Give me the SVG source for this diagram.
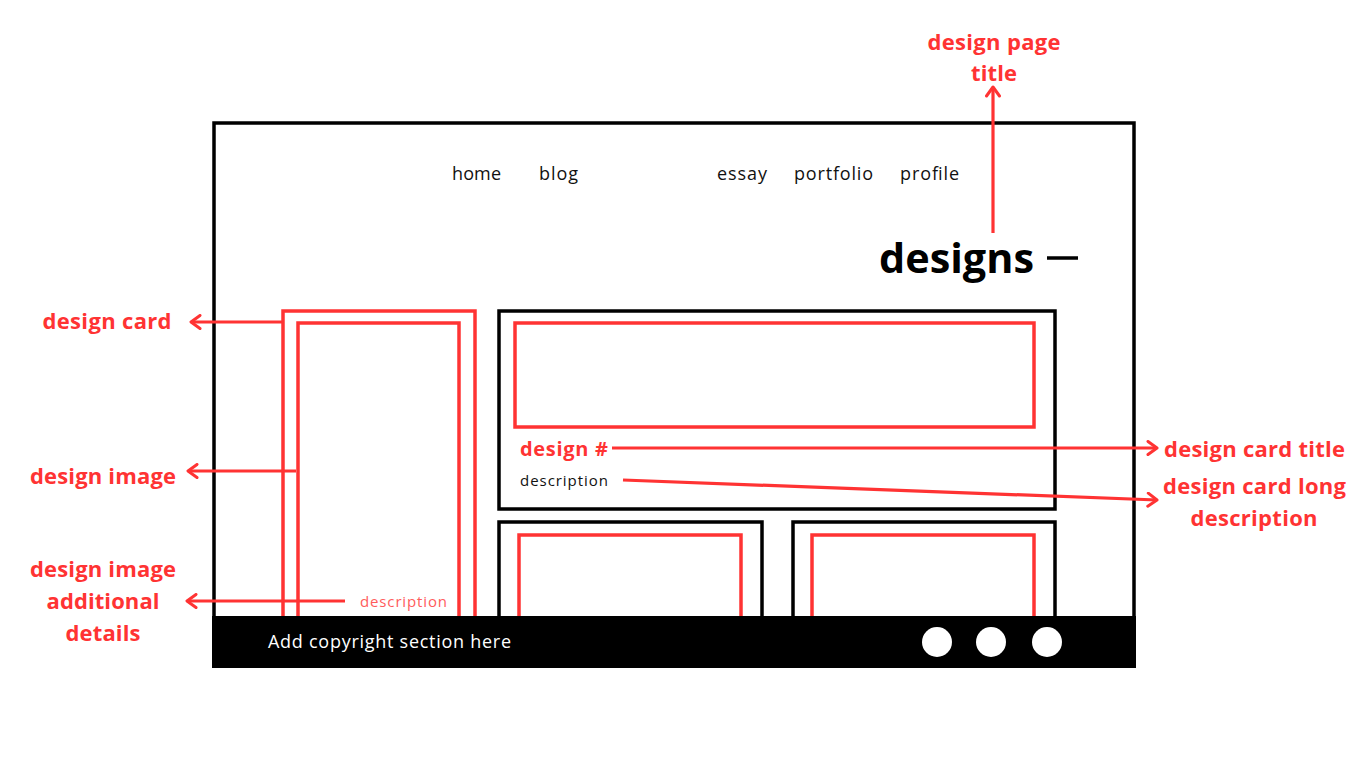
<svg xmlns="http://www.w3.org/2000/svg" width="1366" height="768" viewBox="0 0 1366 768">
<defs>
<marker id="arr" viewBox="0 0 14 16" refX="12" refY="8" markerWidth="14" markerHeight="16" markerUnits="userSpaceOnUse" orient="auto">
<polyline points="3,1.5 12,8 3,14.5" fill="none" stroke="#ff3333" stroke-width="3" stroke-linecap="round" stroke-linejoin="round"/>
</marker>
<style>
.lbl{font-family:"Open Sans","Liberation Sans",sans-serif;font-weight:bold;font-size:22px;fill:#ff3333}
.nav{font-family:"Open Sans","Liberation Sans",sans-serif;font-size:18px;fill:#111}
.blk{fill:none;stroke:#000;stroke-width:3.5}
.red{fill:none;stroke:#ff3333;stroke-width:3.5}
.con{fill:none;stroke:#ff3333;stroke-width:3.2;marker-end:url(#arr)}
</style>
</defs>
<rect width="1366" height="768" fill="#fff"/>
<g id="frame">
<rect class="blk" x="214" y="123" width="920" height="520"/>
</g>
<g id="nav">
<text class="nav" x="452" y="180" textLength="49">home</text>
<text class="nav" x="539" y="180" textLength="39">blog</text>
<text class="nav" x="717" y="180" textLength="50">essay</text>
<text class="nav" x="794" y="180" textLength="79">portfolio</text>
<text class="nav" x="900" y="180" textLength="59">profile</text>
</g>
<g id="page-title">
<text x="879" y="273" font-family="'Open Sans','Liberation Sans',sans-serif" font-weight="bold" font-size="42" fill="#000" textLength="155" lengthAdjust="spacingAndGlyphs">designs</text>
<line x1="1047" y1="258" x2="1078" y2="258" stroke="#000" stroke-width="3.5"/>
</g>
<g id="design-card">
<rect class="red" x="283" y="311" width="192" height="330"/>
<rect class="red" x="298" y="323" width="161" height="318"/>
<text x="360" y="607" font-family="'Open Sans','Liberation Sans',sans-serif" font-size="15" fill="#ff5c5c" textLength="87">description</text>
</g>
<g id="featured-card">
<rect class="blk" x="499" y="311" width="556" height="198"/>
<rect class="red" x="515" y="323" width="519" height="104"/>
<text x="520" y="456" font-family="'Open Sans','Liberation Sans',sans-serif" font-weight="bold" font-size="20" fill="#ff3333" textLength="88">design #</text>
<text x="520" y="486" font-family="'Open Sans','Liberation Sans',sans-serif" font-size="15" fill="#111" textLength="88">description</text>
</g>
<g id="card-bottom-left">
<rect class="blk" x="499" y="522" width="263" height="120"/>
<rect class="red" x="519" y="535" width="222" height="110"/>
</g>
<g id="card-bottom-right">
<rect class="blk" x="793" y="522" width="262" height="120"/>
<rect class="red" x="812" y="535" width="222" height="110"/>
</g>
<g id="footer">
<rect x="212" y="616" width="924" height="52" fill="#000"/>
<text x="268" y="648" font-family="'Open Sans','Liberation Sans',sans-serif" font-size="18" fill="#fff" textLength="243">Add copyright section here</text>
<circle cx="937" cy="642" r="15" fill="#fff"/>
<circle cx="991" cy="642" r="15" fill="#fff"/>
<circle cx="1047" cy="642" r="15" fill="#fff"/>
</g>
<g id="labels">
<text class="lbl" x="994" y="50" text-anchor="middle" textLength="133">design page</text>
<text class="lbl" x="994" y="81" text-anchor="middle" textLength="46">title</text>
<text class="lbl" x="107" y="329" text-anchor="middle" textLength="129">design card</text>
<text class="lbl" x="103" y="484" text-anchor="middle" textLength="146">design image</text>
<text class="lbl" x="103" y="577" text-anchor="middle" textLength="146">design image</text>
<text class="lbl" x="103" y="609" text-anchor="middle" textLength="113">additional</text>
<text class="lbl" x="103" y="641" text-anchor="middle" textLength="75">details</text>
<text class="lbl" x="1164" y="457" textLength="181">design card title</text>
<text class="lbl" x="1163" y="494" textLength="183">design card long</text>
<text class="lbl" x="1254" y="526" text-anchor="middle" textLength="127">description</text>
</g>
<g id="connectors">
<line class="con" x1="993" y1="233" x2="993" y2="87"/>
<line class="con" x1="282" y1="322" x2="191" y2="322"/>
<line class="con" x1="296" y1="471" x2="188" y2="471"/>
<line class="con" x1="345" y1="601" x2="187" y2="601"/>
<line class="con" x1="612" y1="448" x2="1157" y2="448"/>
<line class="con" x1="623" y1="480" x2="1157" y2="500"/>
</g>
</svg>
